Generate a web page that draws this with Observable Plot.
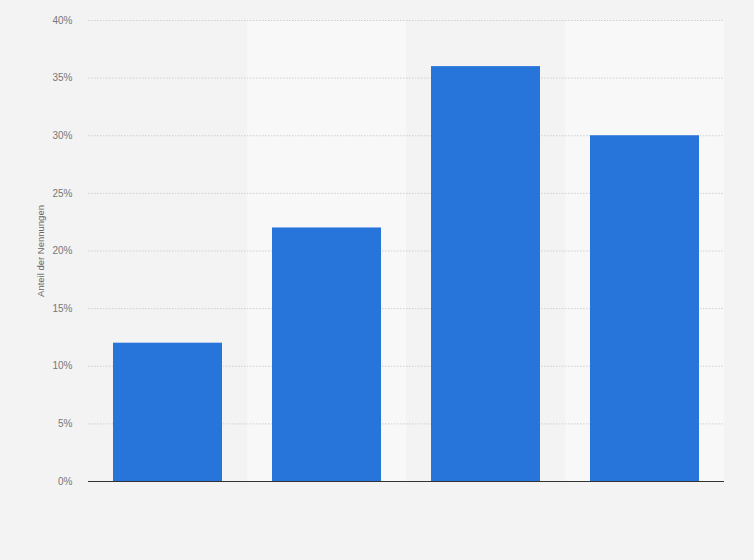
<!DOCTYPE html>
<html>
<head>
<meta charset="utf-8">
<script src="https://cdn.jsdelivr.net/npm/d3@7"></script>
<script src="https://cdn.jsdelivr.net/npm/@observablehq/plot@0.6"></script>
<style>
  html, body { margin: 0; padding: 0; background: #f3f3f3; }
  #chart { width: 754px; height: 560px; }
  svg { font-family: "Liberation Sans", Arial, sans-serif; }
</style>
</head>
<body>
<div id="chart"></div>
<script>
const categories = ["A", "B", "C", "D"];
const values = [12, 22, 36, 30];
const yTicks = [0, 5, 10, 15, 20, 25, 30, 35, 40];
const yLabel = "Anteil der Nennungen";

const data = categories.map((c, i) => ({cat: c, value: values[i]}));
const lightBands = categories.filter((c, i) => i % 2 === 1);

const chart = Plot.plot({
  width: 754,
  height: 560,
  marginLeft: 88,
  marginRight: 30,
  marginTop: 20,
  marginBottom: 79,
  style: {background: "#f3f3f3", fontSize: "10px", color: "#666"},
  x: {domain: categories, paddingInner: 0.314, paddingOuter: 0.157, axis: null},
  y: {domain: [0, 40], ticks: yTicks, tickFormat: d => d + "%", label: null, tickSize: 0, tickPadding: 16},
  marks: [
    Plot.barY(lightBands, {x: d => d, y1: 0, y2: 40, fill: "#f8f8f8", insetLeft: -25, insetRight: -25}),
    Plot.gridY(yTicks.filter(t => t > 0), {stroke: "#cfcfcf", strokeOpacity: 1, strokeDasharray: "1.5,1.5", strokeWidth: 1}),
    Plot.barY(data, {x: "cat", y: "value", fill: "#2775db"}),
    Plot.ruleY([0], {stroke: "#333", strokeWidth: 1}),
    Plot.axisY({ticks: yTicks, tickFormat: d => d + "%", tickSize: 0, tickPadding: 16, fill: "#777", label: null}),
    Plot.text([yLabel], {frameAnchor: "left", textAnchor: "middle", dx: -48, rotate: -90, fill: "#666", fontSize: 9.5})
  ]
});
document.getElementById("chart").appendChild(chart);
</script>
</body>
</html>
